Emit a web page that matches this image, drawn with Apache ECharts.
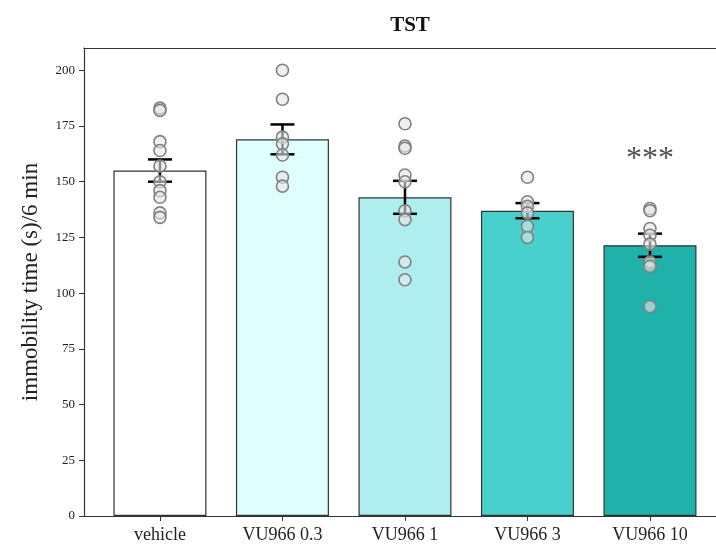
<!DOCTYPE html>
<html>
<head>
<meta charset="utf-8">
<script src="https://cdn.jsdelivr.net/npm/echarts@6/dist/echarts.min.js"></script>
<style>html,body{margin:0;padding:0;background:#fff;}#chart{width:716px;height:546px;}</style>
</head>
<body>
<div id="chart"></div>
<script>
var categories = ['vehicle', 'VU966 0.3', 'VU966 1', 'VU966 3', 'VU966 10'];
var means = [155, 169, 143, 137, 121.5];
var sems = [5, 6.7, 7.4, 3.4, 5.2];
var barColors = ['#ffffff', '#e0ffff', '#afeeee', '#48d1cc', '#20b2aa'];
var pointsVehicle = [183, 182, 168, 164, 157, 150, 146, 143, 136, 134];
var points03 = [200, 187, 170, 167, 162, 152, 148];
var points1 = [176, 166, 165, 153, 150, 137, 133, 114, 106];
var points3 = [152, 141, 139, 136, 130, 125];
var points10 = [138, 137, 129, 126, 122, 114, 112, 94];
var yTicks = [0, 25, 50, 75, 100, 125, 150, 175, 200];
var sigIndex = 4;
var sigLabel = '***';
var sigY = 160;

var allPoints = [pointsVehicle, points03, points1, points3, points10];
var scatterData = [];
allPoints.forEach(function (arr, i) { arr.forEach(function (v) { scatterData.push([i, v]); }); });
var catIdx = categories.map(function (c, i) { return i; });

var serif = '"Liberation Serif", "DejaVu Serif", serif';
var chart = echarts.init(document.getElementById('chart'), null, {renderer: 'canvas'});
chart.setOption({
  animation: false,
  title: {
    text: 'TST', left: 405, top: 10, textAlign: 'center',
    textStyle: {fontFamily: serif, fontSize: 21, fontWeight: 'bold', color: '#111'}
  },
  grid: {left: 84, top: 48, right: 0, height: 468, show: false},
  xAxis: [{
    type: 'value', min: -0.62, max: 4.539,
    axisLine: {show: true, onZero: false, lineStyle: {color: '#333', width: 1.2}},
    splitLine: {show: false},
    axisTick: {show: true, length: 5, customValues: catIdx, lineStyle: {color: '#333'}},
    axisLabel: {
      customValues: catIdx, margin: 10,
      formatter: function (v) { return categories[Math.round(v)]; },
      fontFamily: serif, fontSize: 18, color: '#222'
    }
  }, {
    type: 'value', min: -0.62, max: 4.539, position: 'top',
    axisLine: {show: true, onZero: false, lineStyle: {color: '#333', width: 1.2}},
    splitLine: {show: false}, axisTick: {show: false}, axisLabel: {show: false}
  }],
  yAxis: {
    type: 'value', min: 0, max: 210,
    name: 'immobility time (s)/6 min', nameLocation: 'middle', nameGap: 42,
    nameTextStyle: {fontFamily: serif, fontSize: 23, color: '#222'},
    axisLine: {show: true, onZero: false, lineStyle: {color: '#333', width: 1.2}},
    splitLine: {show: false},
    axisTick: {show: true, length: 5, customValues: yTicks, lineStyle: {color: '#333'}},
    axisLabel: {customValues: yTicks, margin: 9, fontFamily: serif, fontSize: 13, color: '#222'}
  },
  series: [
    {
      type: 'bar', barWidth: 93, z: 2,
      data: means.map(function (m, i) {
        return {value: [i, m], itemStyle: {color: barColors[i], borderColor: '#333', borderWidth: 1.2}};
      })
    },
    {
      type: 'custom', z: 3,
      data: means.map(function (m, i) { return [i, m - sems[i], m + sems[i]]; }),
      renderItem: function (params, api) {
        var lo = api.coord([api.value(0), api.value(1)]);
        var hi = api.coord([api.value(0), api.value(2)]);
        var w = 12;
        var st = {stroke: '#000', lineWidth: 2.5};
        return {type: 'group', children: [
          {type: 'line', shape: {x1: lo[0], y1: lo[1], x2: hi[0], y2: hi[1]}, style: st},
          {type: 'line', shape: {x1: lo[0] - w, y1: lo[1], x2: lo[0] + w, y2: lo[1]}, style: st},
          {type: 'line', shape: {x1: hi[0] - w, y1: hi[1], x2: hi[0] + w, y2: hi[1]}, style: st}
        ]};
      }
    },
    {
      type: 'scatter', z: 4, symbol: 'circle', symbolSize: 12,
      itemStyle: {color: 'rgba(230,230,230,0.6)', borderColor: '#808080', borderWidth: 1.6, opacity: 1},
      data: scatterData
    },
    {
      type: 'scatter', z: 5, symbolSize: 0, silent: true,
      data: [[sigIndex, sigY]],
      label: {show: true, position: 'inside', formatter: sigLabel, fontFamily: serif, fontSize: 32, color: '#222'}
    }
  ]
});
</script>
</body>
</html>
